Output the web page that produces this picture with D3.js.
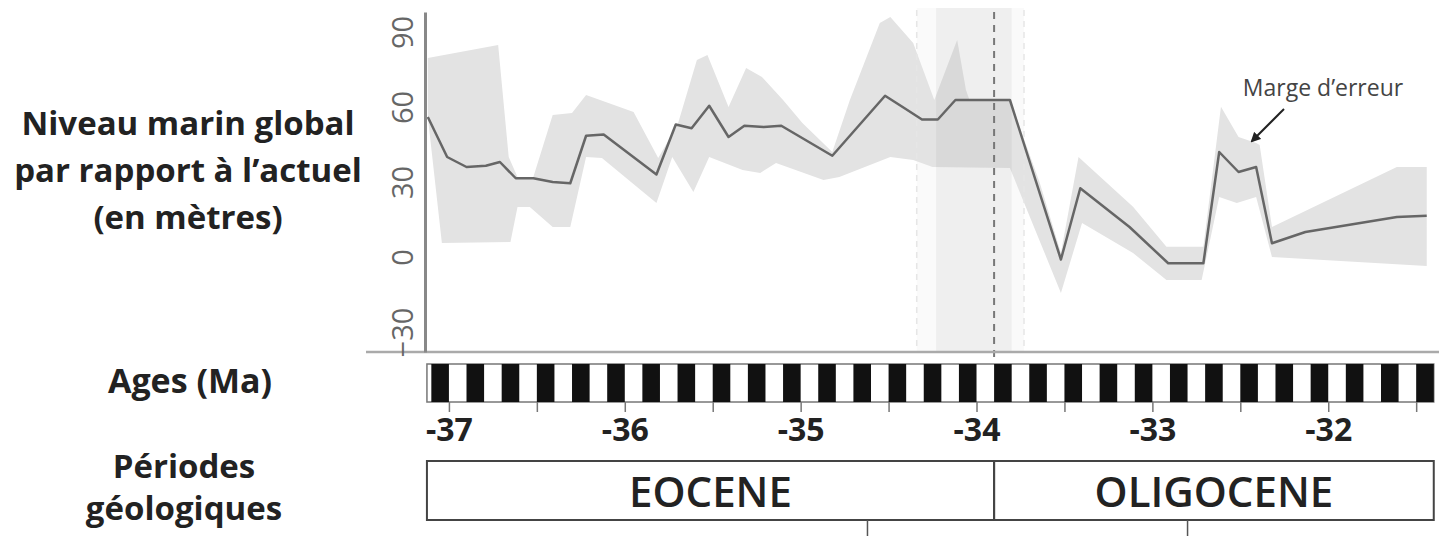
<!DOCTYPE html>
<html>
<head>
<meta charset="utf-8">
<script src="https://cdnjs.cloudflare.com/ajax/libs/d3/7.8.5/d3.min.js"></script>
<style>
    body { margin: 0; background: #fff; }
    svg { display: block; font-family: "Open Sans", sans-serif; }
</style>
</head>
<body>
<div id="chart"></div>
<script>
const WIDTH = 1439;
const HEIGHT = 536;

// sea level curve (age in Ma, level in metres)
var lineAge = [-37.12, -37.01, -36.90, -36.79, -36.71, -36.62, -36.52, -36.41, -36.31, -36.22, -36.12,
    -35.82, -35.71, -35.62, -35.52, -35.41, -35.32, -35.21, -35.11, -34.82, -34.52, -34.42, -34.31,
    -34.22, -34.12, -33.81, -33.52, -33.41, -33.13, -32.91, -32.71, -32.62, -32.51, -32.41, -32.32,
    -32.13, -31.61, -31.44];
var lineLevel = [56, 40, 36, 36.5, 38, 31.5, 31.5, 30, 29.5, 48.5, 49,
    33, 53, 51.5, 60.5, 48, 52.5, 52, 52.5, 40.5, 64.5, 60, 55,
    55, 62.8, 62.8, -1, 27.5, 12, -2.5, -2.5, 42, 34, 36, 5.5,
    10, 16, 16.5];

// error margin, upper and lower edges
var upperAge = [-37.12, -36.72, -36.66, -36.61, -36.52, -36.41, -36.30, -36.22, -35.95, -35.81, -35.70,
    -35.59, -35.53, -35.41, -35.31, -35.22, -35.10, -34.99, -34.82, -34.72, -34.55, -34.49, -34.36,
    -34.24, -34.11, -34.06, -34.04, -33.81, -33.64, -33.52, -33.42, -33.11, -32.92, -32.71, -32.61,
    -32.51, -32.41, -32.39, -32.32, -31.61, -31.44];
var upperLevel = [79.6, 84.8, 40, 32, 32, 56.8, 57.6, 64.8, 58, 39.6, 52.8,
    78.8, 80.8, 60, 75.6, 72, 62.8, 53.6, 42, 62.8, 93.6, 96, 85.6,
    62.8, 86.8, 66.8, 62.8, 62.8, 29.6, 1.6, 40, 20.1, 4.1, 4.1, 60.1,
    48, 45.6, 44.8, 12, 36, 36];
var lowerAge = [-37.12, -37.04, -36.65, -36.61, -36.54, -36.41, -36.31, -36.22, -36.13, -35.82, -35.73,
    -35.61, -35.52, -35.33, -35.23, -35.14, -34.87, -34.78, -34.49, -34.36, -34.25, -33.81, -33.52,
    -33.40, -33.11, -32.92, -32.72, -32.62, -32.52, -32.41, -32.32, -31.44];
var lowerLevel = [56, 5.6, 6, 20, 20, 12, 12, 40, 39.6, 21.6, 40,
    26, 40, 34.8, 33.6, 37.6, 30.8, 32, 40, 38.8, 36, 35.6, -14.4,
    13.6, 1.6, -9.2, -9.2, 24, 21.6, 24, 0, -3.6];

var yTicks = [90, 60, 30, 0, -30];
var xTickLabels = [-37, -36, -35, -34, -33, -32];
var xTicks = [-37, -36.5, -36, -35.5, -35, -34.5, -34, -33.5, -33, -32.5, -32, -31.5];

// magnetic chrons (black intervals), start ages
var chronStart = [-37.1, -36.9, -36.7, -36.5, -36.3, -36.1, -35.9, -35.7, -35.5, -35.3, -35.1,
    -34.9, -34.7, -34.5, -34.3, -34.1, -33.9, -33.7, -33.5, -33.3, -33.1, -32.9, -32.7, -32.5,
    -32.3, -32.1, -31.9, -31.7, -31.5];
var CHRON_LENGTH = 0.1;

var periodName = ["EOCENE", "OLIGOCENE"];
var periodStart = [-37.125, -33.9];
var periodEnd = [-33.9, -31.4];
var stageMarks = [-34.62, -32.8];

var BOUNDARY = -33.9;
var outerBand = [-34.34, -33.73];
var innerBand = [-34.23, -33.80];

var titleLines = ["Niveau marin global", "par rapport à l\u2019actuel", "(en mètres)"];

var translate = function (x, y) {
    return "translate(" + x + "," + y + ")";
};

var svg = d3.select("#chart").append("svg")
    .attr("width", WIDTH)
    .attr("height", HEIGHT);

var x = d3.scaleLinear().domain([-37.136, -31.41]).range([425, 1432]);
var y = d3.scaleLinear().domain([-38, 98]).range([352, 12]);

// vertical uncertainty band around the boundary
svg.append("rect")
    .attr("x", x(outerBand[0])).attr("y", 8)
    .attr("width", x(outerBand[1]) - x(outerBand[0])).attr("height", 344)
    .attr("fill", "#000").attr("fill-opacity", 0.02);

// error margin
var pts = [];
upperAge.forEach(function (a, i) { pts.push([a, upperLevel[i]]); });
for (var i = lowerAge.length - 1; i >= 0; i--) pts.push([lowerAge[i], lowerLevel[i]]);
var edge = d3.line().x(function (d) { return x(d[0]); }).y(function (d) { return y(d[1]); });
svg.append("path")
    .attr("d", edge(pts) + "Z")
    .attr("fill", "#e3e3e3");

svg.append("rect")
    .attr("x", x(innerBand[0])).attr("y", 8)
    .attr("width", x(innerBand[1]) - x(innerBand[0])).attr("height", 344)
    .attr("fill", "#000").attr("fill-opacity", 0.045);

[outerBand[0], outerBand[1]].forEach(function (a) {
    svg.append("line")
        .attr("x1", x(a)).attr("x2", x(a)).attr("y1", 10).attr("y2", 352)
        .attr("stroke", "#e6e6e6").attr("stroke-width", 1.5)
        .attr("stroke-dasharray", "6,5");
});

// sea level line
var curve = d3.line()
    .x(function (d, i) { return x(lineAge[i]); })
    .y(function (d) { return y(d); });
svg.append("path")
    .attr("d", curve(lineLevel))
    .attr("fill", "none")
    .attr("stroke", "#666")
    .attr("stroke-width", 2.5)
    .attr("stroke-linejoin", "round");

svg.append("line")
    .attr("x1", x(BOUNDARY)).attr("x2", x(BOUNDARY)).attr("y1", 12).attr("y2", 360)
    .attr("stroke", "#777").attr("stroke-width", 2)
    .attr("stroke-dasharray", "7,6");

// horizontal base line
svg.append("line")
    .attr("x1", 366).attr("x2", WIDTH).attr("y1", 352).attr("y2", 352)
    .attr("stroke", "#aaa").attr("stroke-width", 2.5);

// y axis
var yAxis = d3.axisLeft(y).tickValues(yTicks).tickSize(0).tickSizeOuter(0);
var gy = svg.append("g").attr("transform", translate(425, 0)).call(yAxis);
gy.select(".domain").attr("stroke", "#888").attr("stroke-width", 3);
gy.selectAll("text")
    .attr("transform", "rotate(-90)")
    .attr("x", 0).attr("y", -12).attr("dy", 0)
    .attr("text-anchor", "middle")
    .attr("fill", "#666")
    .style("font-size", "29px")
    .style("font-family", "Open Sans");

// magnetic polarity strip
var stripTop = 364, stripBottom = 402;
svg.append("rect")
    .attr("x", x(-37.125)).attr("y", stripTop)
    .attr("width", x(-31.4) - x(-37.125)).attr("height", stripBottom - stripTop)
    .attr("fill", "#fff").attr("stroke", "#777").attr("stroke-width", 1.5);
svg.selectAll(".chron")
    .data(chronStart)
    .enter()
    .append("rect")
    .attr("x", function (d) { return x(d); })
    .attr("y", stripTop)
    .attr("width", function (d) { return x(d + CHRON_LENGTH) - x(d); })
    .attr("height", stripBottom - stripTop)
    .attr("fill", "#111");

// age axis
var xAxis = d3.axisBottom(x).tickValues(xTicks).tickSize(10)
    .tickFormat(function (d) { return xTickLabels.indexOf(d) >= 0 ? String(d) : ""; });
var gx = svg.append("g").attr("transform", translate(0, stripBottom)).call(xAxis);
gx.select(".domain").remove();
gx.selectAll("line").attr("stroke", "#777").attr("stroke-width", 1.5);
gx.selectAll("text")
    .attr("y", 39).attr("dy", 0)
    .attr("fill", "#222")
    .style("font-size", "32px")
    .style("font-weight", "bold")
    .style("font-family", "Open Sans");

// geological periods
var pTop = 461, pBottom = 520;
periodName.forEach(function (name, i) {
    svg.append("rect")
        .attr("x", x(periodStart[i])).attr("y", pTop)
        .attr("width", x(periodEnd[i]) - x(periodStart[i])).attr("height", pBottom - pTop)
        .attr("fill", "none").attr("stroke", "#444").attr("stroke-width", 2);
    svg.append("text")
        .attr("x", (x(periodStart[i]) + x(periodEnd[i])) / 2).attr("y", 507)
        .attr("text-anchor", "middle")
        .attr("fill", "#222")
        .style("font-size", "42px").style("font-weight", 600)
        .text(name);
});
stageMarks.forEach(function (a) {
    svg.append("line")
        .attr("x1", x(a)).attr("x2", x(a)).attr("y1", pBottom).attr("y2", HEIGHT)
        .attr("stroke", "#555").attr("stroke-width", 1.5);
});

// left labels
var labelX = 188;
titleLines.forEach(function (t, i) {
    svg.append("text")
        .attr("x", labelX).attr("y", 135 + i * 47)
        .attr("text-anchor", "middle").attr("fill", "#222")
        .style("font-size", "33px").style("font-weight", "bold")
        .text(t);
});
svg.append("text").attr("x", labelX + 2).attr("y", 393)
    .attr("text-anchor", "middle").attr("fill", "#222")
    .style("font-size", "34px").style("font-weight", "bold")
    .text("Ages (Ma)");
svg.append("text").attr("x", labelX - 4).attr("y", 478)
    .attr("text-anchor", "middle").attr("fill", "#222")
    .style("font-size", "33px").style("font-weight", "bold")
    .text("Périodes");
svg.append("text").attr("x", labelX - 4).attr("y", 520)
    .attr("text-anchor", "middle").attr("fill", "#222")
    .style("font-size", "33px").style("font-weight", "bold")
    .text("géologiques");

// annotation
svg.append("defs").append("marker")
    .attr("id", "arrow").attr("viewBox", "0 0 10 10")
    .attr("refX", 8).attr("refY", 5)
    .attr("markerWidth", 5).attr("markerHeight", 5)
    .attr("orient", "auto")
    .append("path").attr("d", "M0,0L10,5L0,10Z").attr("fill", "#222");
svg.append("text")
    .attr("x", 1323).attr("y", 96)
    .attr("text-anchor", "middle").attr("fill", "#444")
    .style("font-size", "23px")
    .text("Marge d\u2019erreur");
svg.append("line")
    .attr("x1", 1284).attr("y1", 109).attr("x2", 1252).attr("y2", 141)
    .attr("stroke", "#222").attr("stroke-width", 2)
    .attr("marker-end", "url(#arrow)");
</script>
</body>
</html>
